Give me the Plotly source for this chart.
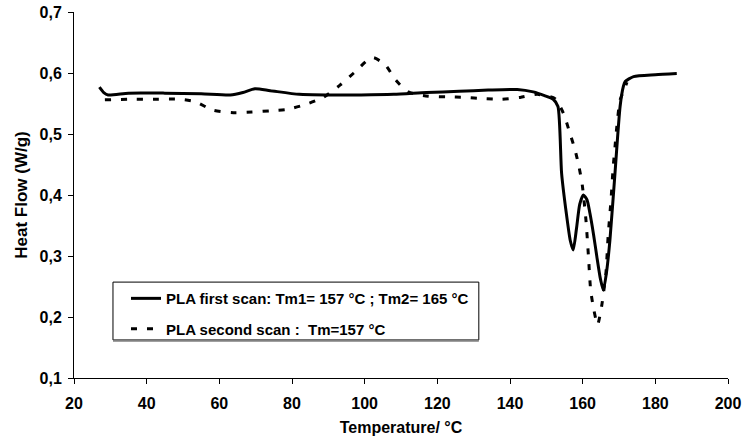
import plotly.graph_objects as go

# First scan (solid)
t1 = [27.0, 28.2, 29.4, 35, 45, 55, 63, 66.5, 69.8, 74, 82, 90, 99, 108, 117, 126, 134, 142, 146.4, 149.5,
      151.9, 153.2, 154.2, 155.5, 156.6, 157.4, 158.3, 159.2, 160.2, 161.2, 162.0, 163.0, 163.9, 164.9, 165.7,
      166.6, 167.5, 168.9, 170.3, 171.2, 171.7, 174.0, 180, 185.9]
v1 = [0.577, 0.568, 0.564, 0.567, 0.567, 0.566, 0.564, 0.568, 0.574, 0.571, 0.565, 0.564, 0.564, 0.565, 0.568, 0.570, 0.572, 0.573, 0.569, 0.563,
      0.557, 0.545, 0.436, 0.37, 0.325, 0.310, 0.345, 0.385, 0.400, 0.392, 0.370, 0.335, 0.299, 0.262, 0.244,
      0.275, 0.326, 0.436, 0.545, 0.578, 0.586, 0.594, 0.597, 0.599]

# Second scan (dashed)
t2 = [28.5, 35, 42, 49, 53.3, 58.3, 63.9, 69, 74, 78.5, 84, 88.6, 93.2, 97.0, 101, 102.5, 105.6, 108.6, 112,
      117.5, 122.6, 127.6, 132.7, 137.7, 142.8, 147.5, 152.4, 154.7, 156.5, 157.9, 159.0, 159.9, 160.9, 161.6,
      162.2, 163.1, 164.1, 165.2, 166.4, 167.0, 167.8, 168.4, 168.9, 169.4, 170.3, 171.4, 172.2]
v2 = [0.556, 0.557, 0.557, 0.557, 0.553, 0.539, 0.535, 0.536, 0.538, 0.540, 0.549, 0.560, 0.580, 0.600, 0.622, 0.625, 0.614, 0.588, 0.569,
      0.562, 0.561, 0.560, 0.558, 0.557, 0.560, 0.565, 0.558, 0.534, 0.501, 0.474, 0.446, 0.416, 0.359, 0.299,
      0.244, 0.211, 0.187, 0.217, 0.272, 0.332, 0.392, 0.446, 0.479, 0.512, 0.556, 0.572, 0.585]

x_ticks = [20, 40, 60, 80, 100, 120, 140, 160, 180, 200]
y_ticks = [0.1, 0.2, 0.3, 0.4, 0.5, 0.6, 0.7]

font_family = "Liberation Sans, Arial, sans-serif"

fig = go.Figure()
fig.add_trace(go.Scatter(x=t1, y=v1, mode="lines", legendgroup="a",
                         line=dict(color="black", width=3, shape="spline", smoothing=0.6),
                         name="PLA first scan: Tm1= 157 °C ; Tm2= 165 °C"))
fig.add_trace(go.Scatter(x=t2, y=v2, mode="lines", legendgroup="b",
                         line=dict(color="black", width=3, dash="6px,10px", shape="spline", smoothing=0.6),
                         name="PLA second scan :  Tm=157 °C"))

axis_common = dict(showgrid=False, zeroline=False, showline=True, linecolor="black", linewidth=1,
                   ticks="outside", ticklen=5, tickcolor="black", automargin=False,
                   tickfont=dict(family=font_family, size=16, color="black", weight="bold"))

fig.update_layout(
    width=742, height=443,
    margin=dict(l=74, r=14, t=12, b=65),
    paper_bgcolor="white", plot_bgcolor="white",
    separators=", ",
    font=dict(family=font_family, color="black"),
    showlegend=True,
    legend=dict(x=0.0795, y=0.262, xanchor="left", yanchor="top",
                bgcolor="rgba(0,0,0,0)", borderwidth=0,
                traceorder="grouped", tracegroupgap=8,
                font=dict(family=font_family, size=15, color="black", weight="bold")),
    shapes=[
        dict(type="rect", xref="paper", yref="paper", x0=0.0596, x1=0.619, y0=0.104, y1=0.262,
             line=dict(color="black", width=1), fillcolor="white", layer="below"),
        dict(type="line", xref="paper", yref="paper", x0=0.0596, x1=0.619, y0=0.1015, y1=0.1015,
             line=dict(color="#808080", width=2)),
    ],
    xaxis=dict(range=[20, 200], tickvals=x_ticks, ticktext=[str(v) for v in x_ticks],
               ticklabelstandoff=6,
               title=dict(text="Temperature/ °C", font=dict(family=font_family, size=16, color="black", weight="bold"), standoff=10),
               **axis_common),
    yaxis=dict(range=[0.1, 0.7], tickvals=y_ticks, tickformat=".1f",
               ticklabelstandoff=3,
               title=dict(text="Heat Flow (W/g)", font=dict(family=font_family, size=17, color="black", weight="bold"), standoff=7),
               **axis_common),
)

fig.write_html("out.html")
